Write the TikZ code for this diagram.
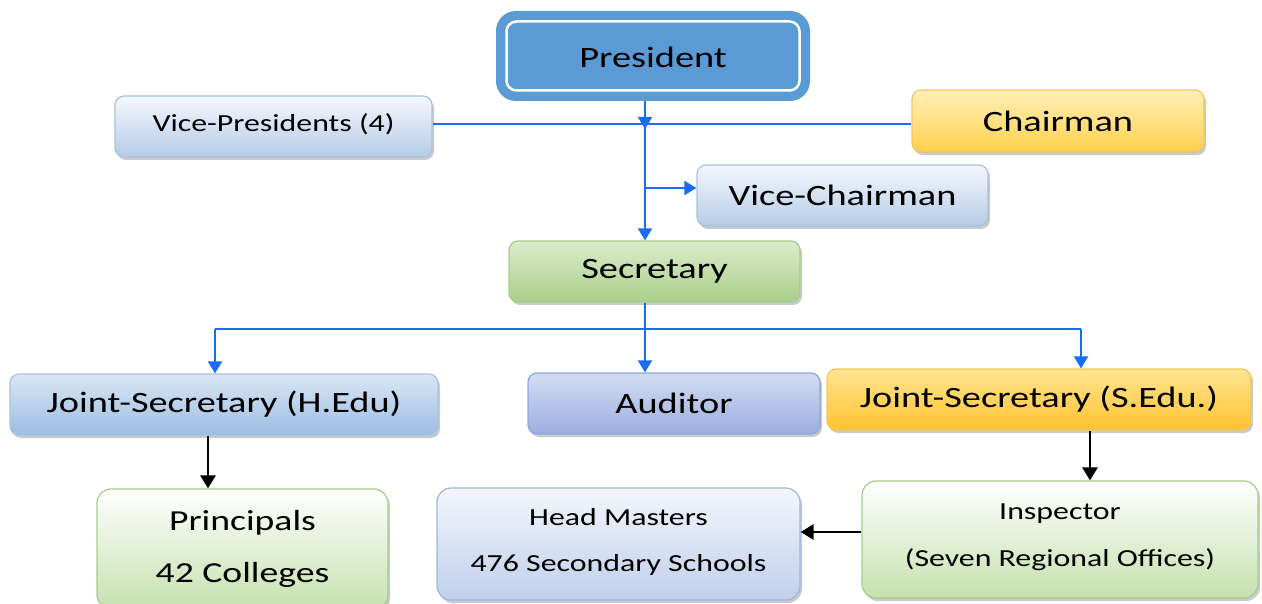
\documentclass[tikz,border=0pt]{standalone}
\usepackage{fontspec}
\setmainfont{Carlito}[FakeStretch=1.3]
\usetikzlibrary{arrows.meta,shadows,calc}
\definecolor{presblue}{HTML}{5B9BD5}
\definecolor{lnblue}{HTML}{1A6CF0}
\definecolor{bltop}{HTML}{F4F8FD}\definecolor{blbot}{HTML}{B6CBE7}\definecolor{bldraw}{HTML}{A8C2E2}
\definecolor{jhtop}{HTML}{D9E6F5}\definecolor{jhbot}{HTML}{9CBDE2}
\definecolor{autop}{HTML}{D3DCF2}\definecolor{aubot}{HTML}{9AAEDF}\definecolor{audraw}{HTML}{8FA6D8}
\definecolor{yltop}{HTML}{FFF0BA}\definecolor{ylbot}{HTML}{FFD04A}\definecolor{yldraw}{HTML}{F0C860}
\definecolor{jstop}{HTML}{FFE590}\definecolor{jsbot}{HTML}{FFC230}
\definecolor{grtop}{HTML}{DCEBCB}\definecolor{grbot}{HTML}{A9CF8A}\definecolor{grdraw}{HTML}{A6CC8C}
\definecolor{gwtop}{HTML}{FFFFFF}\definecolor{gwbot}{HTML}{C6E1AE}
\definecolor{hmtop}{HTML}{F3F6FC}\definecolor{hmbot}{HTML}{C0CFEC}\definecolor{hmdraw}{HTML}{9FB4DE}
\tikzset{
  box/.style={rounded corners=9pt, inner sep=0pt, align=center, line width=1.2pt,
    drop shadow={shadow xshift=2pt, shadow yshift=-3pt, opacity=0.35, fill=black!60}},
  bluebox/.style={box, top color=bltop, bottom color=blbot, draw=bldraw},
  jhbox/.style={box, top color=jhtop, bottom color=jhbot, draw=bldraw},
  aubox/.style={box, top color=autop, bottom color=aubot, draw=audraw},
  ylbox/.style={box, top color=yltop, bottom color=ylbot, draw=yldraw},
  jsbox/.style={box, top color=jstop, bottom color=jsbot, draw=yldraw},
  grbox/.style={box, top color=grtop, bottom color=grbot, draw=grdraw},
  gwbox/.style={box, rounded corners=14pt, top color=gwtop, bottom color=gwbot, draw=grdraw},
  hmbox/.style={box, rounded corners=14pt, top color=hmtop, bottom color=hmbot, draw=hmdraw},
  bline/.style={draw=lnblue, line width=2pt},
  barrow/.style={bline, -{Triangle[width=14pt,length=12pt]}},
  karrow/.style={draw=black, line width=2.8pt, -{Triangle[width=15pt,length=13pt]}},
  big/.style={font=\fontsize{29.5}{34}\selectfont},
  mid/.style={font=\fontsize{24.5}{29}\selectfont},
}
\begin{document}
\begin{tikzpicture}[x=1pt,y=-1pt]
\useasboundingbox (0,0) rectangle (1262,604);
% nodes
\node (pres) [rounded corners=16pt, fill=presblue, draw=presblue, line width=8pt,
  minimum width=306pt, minimum height=82pt, big, text height=24pt, text depth=0pt] at (653,56) {President};
\draw[white, line width=2.5pt, rounded corners=10pt]
  ($(pres.north west)+(10.5,10.5)$) rectangle ($(pres.south east)+(-10.5,-10.5)$);
\node (vp) [bluebox, minimum width=317pt, minimum height=61pt, mid, text depth=8pt] at (273.5,126.5) {Vice-Presidents (4)};
\node (chair) [ylbox, minimum width=292pt, minimum height=62pt, big] at (1058,121) {Chairman};
\node (vc) [bluebox, minimum width=291pt, minimum height=61pt, big] at (842.5,195.5) {Vice-Chairman};
\node (sec) [grbox, minimum width=291pt, minimum height=61pt, big] at (654.5,271.5) {Secretary};
\node (jsh) [jhbox, minimum width=428pt, minimum height=61pt, big] at (224,404.5) {Joint-Secretary (H.Edu)};
\node (aud) [aubox, minimum width=292pt, minimum height=61pt, big] at (674,403.5) {Auditor};
\node (jss) [jsbox, minimum width=424pt, minimum height=61pt, big] at (1039,399.5) {Joint-Secretary (S.Edu.)};
\node (prin) [gwbox, minimum width=291pt, minimum height=120pt, font=\fontsize{29}{52}\selectfont] at (242.5,549) {Principals\\42 Colleges};
\node (hm) [hmbox, minimum width=363pt, minimum height=112pt, font=\fontsize{24.5}{46}\selectfont, text depth=8pt] at (618.5,544) {Head Masters\\476 Secondary Schools};
\node (insp) [gwbox, minimum width=396pt, minimum height=117pt, font=\fontsize{24.5}{47}\selectfont, text depth=9pt] at (1060,539.5) {Inspector\\(Seven Regional Offices)};
% blue connectors
\coordinate (spine) at (645,0);
\coordinate (hl) at (0,124);
\coordinate (vcy) at (0,188);
\draw[bline] (vp.east |- hl) -- (chair.west |- hl);
\draw[barrow] (spine |- pres.south) -- ($(spine |- hl)+(0,5)$);
\draw[barrow] (spine |- hl) -- (spine |- sec.north);
\draw[barrow] (spine |- vcy) -- (vc.west |- vcy);
\coordinate (bl) at (215,329);
\coordinate (br) at (1081,329);
\draw[bline] (bl) -- (br);
\draw[barrow] (spine |- sec.south) -- (spine |- aud.north);
\draw[barrow] (bl) -- (bl |- jsh.north);
\draw[barrow] (br) -- (br |- jss.north);
% black connectors
\coordinate (kl) at (208,0);
\coordinate (kr) at (1090,0);
\coordinate (ky) at (0,532);
\draw[karrow] (kl |- jsh.south) -- (kl |- prin.north);
\draw[karrow] (kr |- jss.south) -- (kr |- insp.north);
\draw[karrow] (insp.west |- ky) -- (hm.east |- ky);
\end{tikzpicture}
\end{document}
